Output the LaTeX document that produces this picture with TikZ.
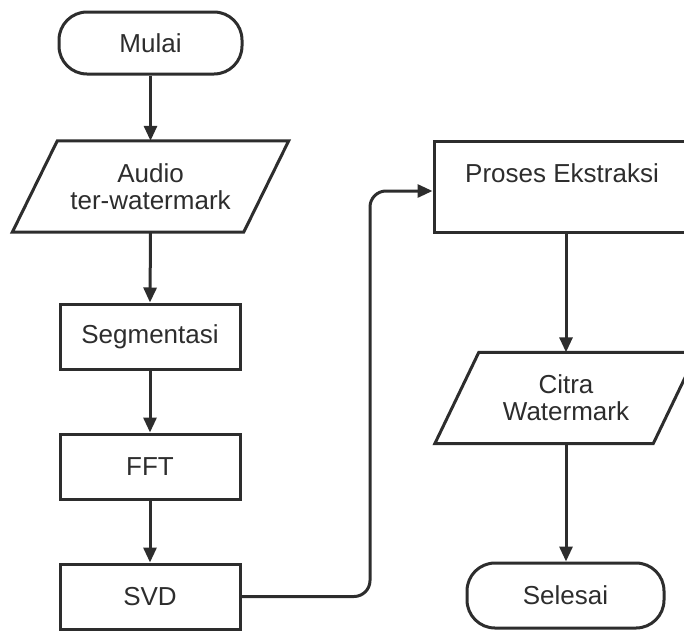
\documentclass[tikz,border=0pt]{standalone}
\usepackage{fontspec}
\setmainfont{Liberation Sans}
\usetikzlibrary{arrows.meta,calc}
\definecolor{lc}{RGB}{45,45,45}
\begin{document}
\begin{tikzpicture}[x=1pt,y=1pt,
  every node/.style={font=\fontsize{26}{27}\selectfont, text=lc, inner sep=0pt, align=center},
  boxnode/.style={draw=lc, line width=3pt, minimum width=180, minimum height=65},
  termnode/.style={draw=lc, line width=3pt, rounded corners=28pt},
  ionode/.style={draw=none, minimum height=91},
  shapeline/.style={draw=lc, line width=3pt, line join=miter},
  arr/.style={draw=lc, line width=3pt, -{Triangle[length=15pt,width=13pt]}}
]
\clip (0,0) rectangle (684,-632);
\useasboundingbox (0,0) rectangle (684,-632);

% terminals
\node[termnode, minimum width=183, minimum height=62] (start) at (150.5,-43) {Mulai};
\node[termnode, minimum width=197, minimum height=65] (stop) at (565.5,-595.5) {Selesai};

% input parallelogram
\node[ionode, minimum width=186] (audio) at (150.5,-186.5) {Audio\\ter-watermark};
\draw[shapeline] (audio.north west) -- ($(audio.north east)+(45,0)$)
  -- (audio.south east) -- ($(audio.south west)+(-45,0)$) -- cycle;

% process boxes
\node[boxnode] (seg) at (150,-336.5) {Segmentasi};
\node[boxnode] (fft) at (150,-466.5) {FFT};
\node[boxnode] (svd) at (150,-596.5) {SVD};

\node[boxnode, minimum width=256, minimum height=91,
      label={[yshift=13.5pt, font=\fontsize{26}{27}\selectfont, text=lc]center:Proses Ekstraksi}] (proc) at (562,-186.5) {};

% output parallelogram
\node[ionode, minimum width=174] (citra) at (566,-398) {Citra\\Watermark};
\draw[shapeline] (citra.north west) -- ($(citra.north east)+(44,0)$)
  -- (citra.south east) -- ($(citra.south west)+(-44,0)$) -- cycle;

% connectors
\draw[arr] (start.south) -- (audio.north);
\draw[arr] (audio.south) -- (seg.north);
\draw[arr] (seg.south) -- (fft.north);
\draw[arr] (fft.south) -- (svd.north);
\coordinate (bend) at (370,-191);
\draw[arr, rounded corners=16pt] (svd.east) -| (bend) -- (proc.west |- bend);
\draw[arr] (citra.center |- proc.south) -- (citra.north);
\draw[arr] (citra.south) -- (citra.center |- stop.north);
\end{tikzpicture}
\end{document}
